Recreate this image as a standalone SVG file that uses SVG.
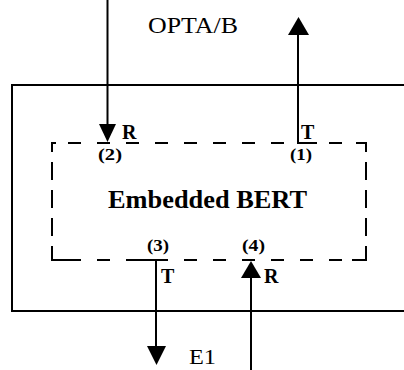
<svg xmlns="http://www.w3.org/2000/svg" width="404" height="370" viewBox="0 0 404 370">
<style>
.ln{stroke:#000;stroke-width:2;fill:none}
.dh{stroke:#000;stroke-width:2;fill:none;stroke-dasharray:13 16;stroke-dashoffset:13}
.dv{stroke:#000;stroke-width:2;fill:none;stroke-dasharray:18 10;stroke-dashoffset:9}
.hd{fill:#000}
.lbl{font-family:"Liberation Serif","Times New Roman",serif;fill:#000}
.b{font-weight:bold}
</style>
<g id="outer">
<path class="ln" d="M404,85 H12 V311 H404"/>
</g>
<g id="bert">
<line class="dh" x1="52" y1="143" x2="366" y2="143"/>
<line class="dh" x1="52" y1="260" x2="366" y2="260"/>
<line class="dv" x1="52" y1="143" x2="52" y2="260"/>
<line class="dv" x1="366" y1="143" x2="366" y2="260"/>
<path class="ln" d="M52,152 V143 H56"/>
<path class="ln" d="M356,143 H366 V152"/>
<path class="ln" d="M52,247 V260 H69"/>
<path class="ln" d="M366,247 V260 H352"/>
<text class="lbl b" x="108" y="208" font-size="25" textLength="199" lengthAdjust="spacingAndGlyphs">Embedded BERT</text>
<text class="lbl b" x="98" y="160" font-size="16" textLength="24" lengthAdjust="spacingAndGlyphs">(2)</text>
<text class="lbl b" x="290" y="160" font-size="16" textLength="22" lengthAdjust="spacingAndGlyphs">(1)</text>
<text class="lbl b" x="147" y="251" font-size="16" textLength="22" lengthAdjust="spacingAndGlyphs">(3)</text>
<text class="lbl b" x="242" y="251" font-size="16" textLength="23" lengthAdjust="spacingAndGlyphs">(4)</text>
</g>
<g id="connectors">
<line class="ln" x1="107.5" y1="0" x2="107.5" y2="126"/>
<polygon class="hd" points="99,124 116,124 107.5,142"/>
<path class="ln" d="M298,34 V143 H317"/>
<polygon class="hd" points="288,35 309,35 298.5,17"/>
<path class="ln" d="M138,260 H156 V348"/>
<polygon class="hd" points="147,346 166,346 156.5,365"/>
<line class="ln" x1="251" y1="370" x2="251" y2="276"/>
<polygon class="hd" points="241,278 261,278 251,261"/>
</g>
<g id="labels">
<text class="lbl" x="148" y="33" font-size="23" textLength="90" lengthAdjust="spacingAndGlyphs">OPTA/B</text>
<text class="lbl" x="189" y="364" font-size="22" textLength="27" lengthAdjust="spacingAndGlyphs">E1</text>
<text class="lbl b" x="122" y="139" font-size="20">R</text>
<text class="lbl b" x="301" y="139" font-size="20">T</text>
<text class="lbl b" x="161" y="283" font-size="20">T</text>
<text class="lbl b" x="264" y="283" font-size="20">R</text>
</g>
</svg>
